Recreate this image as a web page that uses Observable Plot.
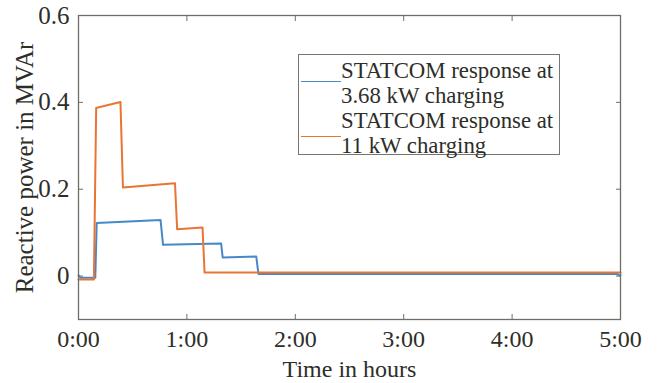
<!DOCTYPE html>
<html>
<head>
<meta charset="utf-8">
<script src="https://cdn.jsdelivr.net/npm/d3@7"></script>
<script src="https://cdn.jsdelivr.net/npm/@observablehq/plot@0.6"></script>
<style>
  html, body { margin: 0; padding: 0; background: #fff; }
  #wrap { position: relative; width: 659px; height: 383px; font-family: "Liberation Serif", "Times New Roman", serif; }
  #legend { position: absolute; left: 298px; top: 54px; width: 262px; height: 101px; border: 1.3px solid #76766c; background: #fff; box-sizing: border-box; }
  .row { position: absolute; left: 42px; font-size: 22.8px; line-height: 25px; color: #2e2e28; white-space: nowrap; }
  .sw { position: absolute; left: 2px; width: 40px; height: 0; border-top: 1.6px solid; }
</style>
</head>
<body>
<div id="wrap"></div>
<script>
// Time in hours
const blueT = [0, 0.02, 0.155, 0.168, 0.757, 0.78, 1.316, 1.33, 1.64, 1.66, 4.97, 4.985, 5.0];
const blueQ = [0.002, -0.004, -0.004, 0.122, 0.129, 0.072, 0.075, 0.043, 0.045, 0.005, 0.005, 0.002, 0.002];
const orangeT = [0, 0.142, 0.163, 0.18, 0.387, 0.41, 0.89, 0.91, 1.144, 1.163, 5.0];
const orangeQ = [-0.008, -0.008, 0.387, 0.388, 0.401, 0.204, 0.214, 0.108, 0.112, 0.008, 0.008];
const xTicks = [0, 1, 2, 3, 4, 5];
const yTicks = [0, 0.2, 0.4, 0.6];
const yTickLabels = ["0", "0.2", "0.4", "0.6"];
const seriesNames = ["STATCOM response at 3.68 kW charging", "STATCOM response at 11 kW charging"];
const colors = ["#4689c9", "#ea7434"];

const blue = blueT.map((t, i) => ({t, q: blueQ[i]}));
const orange = orangeT.map((t, i) => ({t, q: orangeQ[i]}));
const axisColor = "#6e6e66";

const chart = Plot.plot({
  width: 659, height: 383,
  marginLeft: 78, marginRight: 39, marginTop: 15, marginBottom: 64,
  x: {domain: [0, 5]},
  y: {domain: [-0.1, 0.6]},
  style: {fontFamily: "Liberation Serif, Times New Roman, serif", fontSize: "24.5px", color: "#2e2e28", background: "#fff"},
  marks: [
    Plot.axisX(xTicks, {anchor: "bottom", tickSize: 0, tickPadding: 10, tickFormat: d => d + ":00", fill: "#2e2e28",
      label: "Time in hours", labelAnchor: "center", labelArrow: "none", labelOffset: 57, fontSize: 24}),
    Plot.axisX(xTicks, {anchor: "bottom", tickSize: -5, text: null, label: null, stroke: axisColor}),
    Plot.axisX(xTicks, {anchor: "top", tickSize: -5, text: null, label: null, stroke: axisColor}),
    Plot.axisY(yTicks, {anchor: "left", tickSize: 0, tickPadding: 9, tickFormat: (d, i) => yTickLabels[i], fill: "#2e2e28",
      label: "Reactive power in MVAr", labelAnchor: "center", labelArrow: "none", labelOffset: 63, fontSize: 25}),
    Plot.axisY(yTicks, {anchor: "left", tickSize: -5, text: null, label: null, stroke: axisColor}),
    Plot.axisY(yTicks, {anchor: "right", tickSize: -5, text: null, label: null, stroke: axisColor}),
    Plot.line(blue, {x: "t", y: "q", stroke: colors[0], strokeWidth: 2}),
    Plot.line(orange, {x: "t", y: "q", stroke: colors[1], strokeWidth: 2}),
    Plot.frame({stroke: axisColor, strokeWidth: 1.3})
  ]
});

const wrap = document.getElementById("wrap");
wrap.appendChild(chart);

const legend = document.createElement("div");
legend.id = "legend";
const lines = [
  ["STATCOM response at", "3.68 kW charging"],
  ["STATCOM response at", "11 kW charging"]
];
lines.forEach((pair, k) => {
  const sw = document.createElement("div");
  sw.className = "sw";
  sw.style.borderColor = colors[k];
  sw.style.top = (26 + k * 54.5) + "px";
  legend.appendChild(sw);
  pair.forEach((txt, j) => {
    const r = document.createElement("div");
    r.className = "row";
    r.textContent = txt;
    r.style.top = (3 + (k * 2 + j) * 25) + "px";
    legend.appendChild(r);
  });
});
legend.title = seriesNames.join("; ");
wrap.appendChild(legend);
</script>
</body>
</html>
